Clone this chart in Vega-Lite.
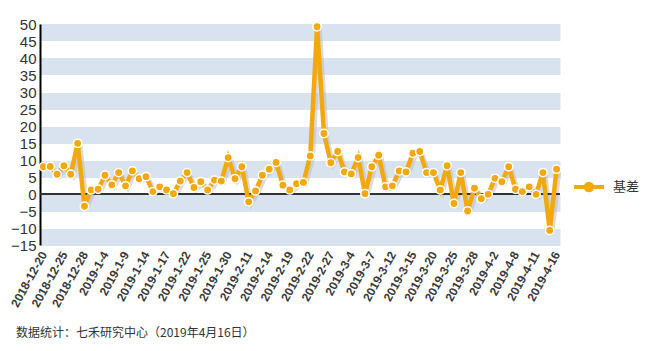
{
  "$schema": "https://vega.github.io/schema/vega-lite/v6.json",
  "width": 520,
  "height": 221,
  "autosize": {"type": "none"},
  "padding": {"left": 40, "top": 24, "right": 85, "bottom": 106},
  "background": "white",
  "config": {
    "view": {"stroke": null},
    "font": "Liberation Sans",
    "axisX": {
      "labelAngle": -61,
      "labelFont": "Liberation Sans",
      "labelFontSize": 12,
      "labelFontWeight": "bold",
      "labelColor": "#3a3a3a",
      "labelPadding": 7,
      "labelOverlap": false,
      "ticks": false,
      "domain": false,
      "grid": false,
      "title": null
    }
  },
  "title": {
    "text": "数据统计：七禾研究中心（2019年4月16日）",
    "orient": "bottom",
    "anchor": "start",
    "frame": "group",
    "dx": -24,
    "offset": 19,
    "font": "Noto Sans CJK SC",
    "fontSize": 12,
    "fontWeight": "normal",
    "color": "#333333"
  },
  "data": {
    "values": [
      {"date": "2018-12-20", "v": 8.0},
      {"date": "2018-12-21", "v": 8.1},
      {"date": "2018-12-24", "v": 5.8},
      {"date": "2018-12-25", "v": 8.3},
      {"date": "2018-12-26", "v": 5.8},
      {"date": "2018-12-27", "v": 14.9},
      {"date": "2018-12-28", "v": -3.6},
      {"date": "2019-1-2", "v": 1.2},
      {"date": "2019-1-3", "v": 1.4},
      {"date": "2019-1-4", "v": 5.5},
      {"date": "2019-1-7", "v": 2.7},
      {"date": "2019-1-8", "v": 6.3},
      {"date": "2019-1-9", "v": 2.4},
      {"date": "2019-1-10", "v": 6.8},
      {"date": "2019-1-11", "v": 4.5},
      {"date": "2019-1-14", "v": 5.1},
      {"date": "2019-1-15", "v": 0.7},
      {"date": "2019-1-16", "v": 2.1},
      {"date": "2019-1-17", "v": 1.2},
      {"date": "2019-1-18", "v": 0.1},
      {"date": "2019-1-21", "v": 3.8},
      {"date": "2019-1-22", "v": 6.3},
      {"date": "2019-1-23", "v": 1.9},
      {"date": "2019-1-24", "v": 3.6},
      {"date": "2019-1-25", "v": 1.2},
      {"date": "2019-1-28", "v": 4.1},
      {"date": "2019-1-29", "v": 3.8},
      {"date": "2019-1-30", "v": 10.7},
      {"date": "2019-1-31", "v": 4.5},
      {"date": "2019-2-1", "v": 8.0},
      {"date": "2019-2-11", "v": -2.3},
      {"date": "2019-2-12", "v": 0.9},
      {"date": "2019-2-13", "v": 5.5},
      {"date": "2019-2-14", "v": 7.3},
      {"date": "2019-2-15", "v": 9.3},
      {"date": "2019-2-18", "v": 2.6},
      {"date": "2019-2-19", "v": 1.2},
      {"date": "2019-2-20", "v": 3.0},
      {"date": "2019-2-21", "v": 3.4},
      {"date": "2019-2-22", "v": 11.2},
      {"date": "2019-2-25", "v": 49.2},
      {"date": "2019-2-26", "v": 17.8},
      {"date": "2019-2-27", "v": 9.2},
      {"date": "2019-2-28", "v": 12.5},
      {"date": "2019-3-1", "v": 6.5},
      {"date": "2019-3-4", "v": 5.9},
      {"date": "2019-3-5", "v": 10.7},
      {"date": "2019-3-6", "v": 0.1},
      {"date": "2019-3-7", "v": 8.0},
      {"date": "2019-3-8", "v": 11.4},
      {"date": "2019-3-11", "v": 2.1},
      {"date": "2019-3-12", "v": 2.4},
      {"date": "2019-3-13", "v": 6.8},
      {"date": "2019-3-14", "v": 6.5},
      {"date": "2019-3-15", "v": 12.0},
      {"date": "2019-3-18", "v": 12.5},
      {"date": "2019-3-19", "v": 6.3},
      {"date": "2019-3-20", "v": 6.3},
      {"date": "2019-3-21", "v": 1.2},
      {"date": "2019-3-22", "v": 8.3},
      {"date": "2019-3-25", "v": -2.8},
      {"date": "2019-3-26", "v": 6.3},
      {"date": "2019-3-27", "v": -5.0},
      {"date": "2019-3-28", "v": 1.7},
      {"date": "2019-3-29", "v": -1.4},
      {"date": "2019-4-1", "v": -0.1},
      {"date": "2019-4-2", "v": 4.6},
      {"date": "2019-4-3", "v": 3.6},
      {"date": "2019-4-4", "v": 8.0},
      {"date": "2019-4-8", "v": 1.4},
      {"date": "2019-4-9", "v": 0.7},
      {"date": "2019-4-10", "v": 2.1},
      {"date": "2019-4-11", "v": -0.1},
      {"date": "2019-4-12", "v": 6.3},
      {"date": "2019-4-15", "v": -10.7},
      {"date": "2019-4-16", "v": 7.3}
    ]
  },
  "layer": [
    {
      "mark": {"type": "line", "color": "#bdbdbd", "strokeWidth": 4.5, "opacity": 0.55, "xOffset": 2.5, "yOffset": 2},
      "encoding": {
        "x": {"field": "date", "type": "ordinal", "sort": null, "scale": {"type": "point", "padding": 0.5},
          "axis": {"values": ["2018-12-20", "2018-12-25", "2018-12-28", "2019-1-4", "2019-1-9", "2019-1-14", "2019-1-17", "2019-1-22", "2019-1-25", "2019-1-30", "2019-2-11", "2019-2-14", "2019-2-19", "2019-2-22", "2019-2-27", "2019-3-4", "2019-3-7", "2019-3-12", "2019-3-15", "2019-3-20", "2019-3-25", "2019-3-28", "2019-4-2", "2019-4-8", "2019-4-11", "2019-4-16"]}},
        "y": {
          "field": "v",
          "type": "quantitative",
          "scale": {"domain": [-15, 50], "nice": false, "zero": false},
          "axis": {
            "orient": "left",
            "values": [-12.5, -2.5, 7.5, 17.5, 27.5, 37.5, 47.5],
            "grid": true,
            "gridColor": "#d9e3ef",
            "gridWidth": 17,
            "gridOpacity": 1,
            "labels": false,
            "ticks": false,
            "domain": false,
            "title": null
          }
        }
      }
    },
    {
      "mark": {"type": "rule", "color": "#333333", "strokeWidth": 1.2},
      "encoding": {
        "y": {
          "datum": 0,
          "type": "quantitative",
          "axis": {
            "orient": "left",
            "values": [-15, -10, -5, 0, 5, 10, 15, 20, 25, 30, 35, 40, 45, 50],
            "grid": false,
            "ticks": false,
            "domain": true,
            "domainColor": "#000000",
            "domainWidth": 2,
            "labelFont": "Liberation Sans",
            "labelFontSize": 15,
            "labelColor": "#333333",
            "labelPadding": 4,
            "labelOverlap": false,
            "labelFlush": false,
            "title": null
          }
        }
      }
    },
    {
      "mark": {"type": "line", "strokeWidth": 4.5},
      "encoding": {
        "x": {"field": "date", "type": "ordinal", "sort": null,
          "axis": {"values": ["2018-12-20", "2018-12-25", "2018-12-28", "2019-1-4", "2019-1-9", "2019-1-14", "2019-1-17", "2019-1-22", "2019-1-25", "2019-1-30", "2019-2-11", "2019-2-14", "2019-2-19", "2019-2-22", "2019-2-27", "2019-3-4", "2019-3-7", "2019-3-12", "2019-3-15", "2019-3-20", "2019-3-25", "2019-3-28", "2019-4-2", "2019-4-8", "2019-4-11", "2019-4-16"]}},
        "y": {"field": "v", "type": "quantitative", "axis": null},
        "color": {
          "datum": "基差",
          "scale": {"range": ["#f3a80e"]},
          "legend": {
            "title": null,
            "orient": "none",
            "legendX": 532,
            "legendY": 146,
            "padding": 0,
            "symbolType": "M-1,0H1M-0.22,0A0.22,0.22,0,1,1,0.22,0A0.22,0.22,0,1,1,-0.22,0Z",
            "symbolSize": 900,
            "symbolStrokeWidth": 4,
            "symbolFillColor": "#f3a80e",
            "symbolStrokeColor": "#f3a80e",
            "labelFont": "Noto Sans CJK SC",
            "labelFontSize": 13,
            "labelColor": "#333333",
            "labelOffset": 7
          }
        }
      }
    },
    {
      "mark": {"type": "point", "filled": true, "fill": "#f3a80e", "stroke": "white", "strokeWidth": 1.5, "size": 70, "opacity": 1},
      "encoding": {
        "x": {"field": "date", "type": "ordinal", "sort": null,
          "axis": {"values": ["2018-12-20", "2018-12-25", "2018-12-28", "2019-1-4", "2019-1-9", "2019-1-14", "2019-1-17", "2019-1-22", "2019-1-25", "2019-1-30", "2019-2-11", "2019-2-14", "2019-2-19", "2019-2-22", "2019-2-27", "2019-3-4", "2019-3-7", "2019-3-12", "2019-3-15", "2019-3-20", "2019-3-25", "2019-3-28", "2019-4-2", "2019-4-8", "2019-4-11", "2019-4-16"]}},
        "y": {"field": "v", "type": "quantitative", "axis": null}
      }
    }
  ],
  "resolve": {"axis": {"y": "independent"}}
}
